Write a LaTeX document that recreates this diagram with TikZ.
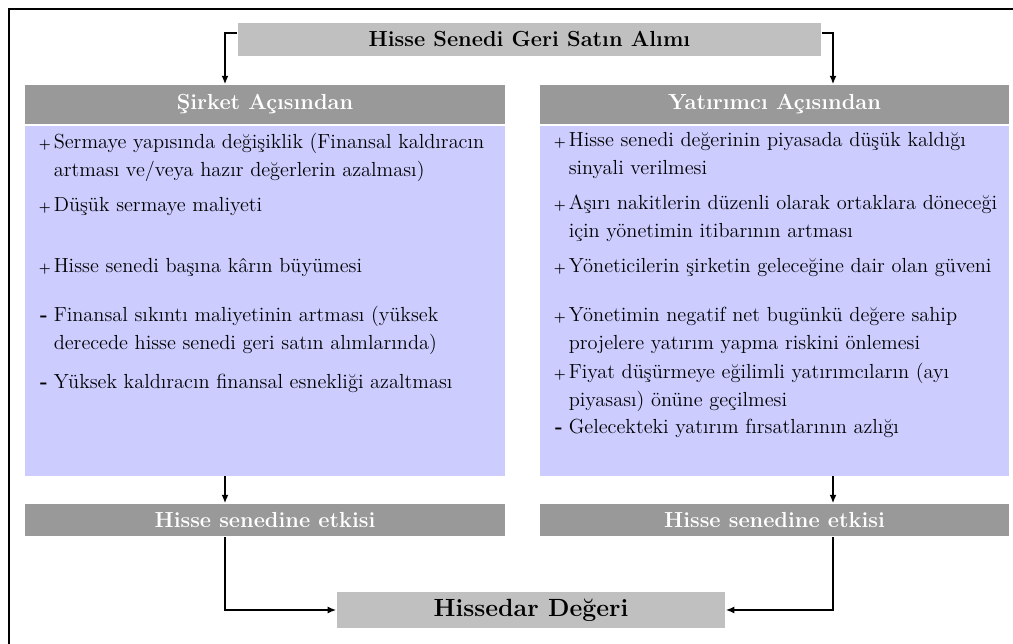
\documentclass[tikz,border=0pt]{standalone}
\usepackage{tikz}
\usetikzlibrary{arrows.meta}
\usetikzlibrary{positioning}

\definecolor{boxgray}{HTML}{C0C0C0}
\definecolor{headgray}{HTML}{999999}
\definecolor{bodyblue}{HTML}{CCCCFF}

\newcommand{\plus}{\strut\makebox[0.375cm][l]{\fontsize{9.5}{10}\selectfont\textbf{+}}}
\newcommand{\minus}{\strut\makebox[0.375cm][l]{\hspace*{1pt}\textbf{-}}}
\newcommand{\hang}{\hspace*{0.375cm}}

\begin{document}
\begin{tikzpicture}[x=0.025cm, y=-0.025cm, line width=1.1pt,
  graybox/.style={fill=boxgray, inner sep=0pt},
  headbox/.style={fill=headgray, text=white, inner sep=0pt, minimum height=0.975cm,
    font=\fontsize{15.5}{17}\selectfont\bfseries},
  bodybox/.style={fill=bodyblue, inner sep=0pt},
  item/.style={anchor=north west, align=left, inner sep=0pt,
    font=\fontsize{14.5}{19.9}\selectfont},
  arr/.style={-{Latex[length=6pt,width=5pt]}}]
  \clip (0,0) rectangle (1013,644);
  \draw[line width=1.5pt] (9,720) -- (9,9) -- (1040,9);

  % top and bottom boxes
  \node[graybox, minimum width=14.575cm, minimum height=0.825cm,
    font=\fontsize{15.5}{17}\selectfont\bfseries] (buy) at (529.5,39.5) {Hisse Senedi Geri Satın Alımı};
  \node[graybox, minimum width=9.7cm, minimum height=0.9cm,
    font=\fontsize{17.7}{20}\selectfont\bfseries] (value) at (531,610) {Hissedar Değeri};

  % columns
  \node[headbox, minimum width=12cm] (lhead) at (265,104.5) {Şirket Açısından};
  \node[bodybox, below=0pt of lhead, minimum width=12cm, minimum height=8.75cm] (lbody) {};
  \node[headbox, minimum width=11.725cm] (rhead) at (774.5,104.5) {Yatırımcı Açısından};
  \node[bodybox, below=0pt of rhead, minimum width=11.725cm, minimum height=8.75cm] (rbody) {};

  \node[headbox, minimum width=12cm, minimum height=0.8cm] (leff) at (265,520) {Hisse senedine etkisi};
  \node[headbox, minimum width=11.725cm, minimum height=0.8cm] (reff) at (774.5,520) {Hisse senedine etkisi};

  % items
  \node[item] (l1) at (38,128.4) {\plus Sermaye yapısında değişiklik (Finansal kaldıracın\\\hang artması ve/veya hazır değerlerin azalması)};
  \node[item] (l2) at (38,191.4) {\plus Düşük sermaye maliyeti};
  \node[item] (l3) at (38,252.4) {\plus Hisse senedi başına kârın büyümesi};
  \node[item] (l4) at (38,301.4) {\minus Finansal sıkıntı maliyetinin artması (yüksek\\\hang derecede hisse senedi geri satın alımlarında)};
  \node[item] (l5) at (38,368.4) {\minus Yüksek kaldıracın finansal esnekliği azaltması};

  \node[item] (r1) at (553,126.4) {\plus Hisse senedi değerinin piyasada düşük kaldığı\\\hang sinyali verilmesi};
  \node[item] (r2) at (553,189.4) {\plus Aşırı nakitlerin düzenli olarak ortaklara döneceği\\\hang için yönetimin itibarının artması};
  \node[item] (r3) at (553,252.4) {\plus Yöneticilerin şirketin geleceğine dair olan güveni};
  \node[item] (r4) at (553,301.4) {\plus Yönetimin negatif net bugünkü değere sahip\\\hang projelere yatırım yapma riskini önlemesi};
  \node[item] (r5) at (553,358.4) {\plus Fiyat düşürmeye eğilimli yatırımcıların (ayı\\\hang piyasası) önüne geçilmesi};
  \node[item] (r6) at (553,413.4) {\minus Gelecekteki yatırım fırsatlarının azlığı};

  % connectors
  \coordinate (la) at (225,0);
  \coordinate (ra) at (833,0);
  \draw[arr] ([yshift=0.16cm]buy.west) -| (la |- lhead.north);
  \draw[arr] ([yshift=0.16cm]buy.east) -| (ra |- rhead.north);
  \draw[arr] (la |- lbody.south) -- (la |- leff.north);
  \draw[arr] (ra |- rbody.south) -- (ra |- reff.north);
  \draw[arr] (la |- leff.south) |- (value.west);
  \draw[arr] (ra |- reff.south) |- (value.east);
\end{tikzpicture}
\end{document}
